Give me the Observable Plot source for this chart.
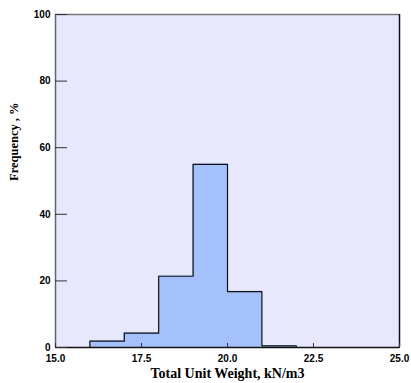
<!DOCTYPE html>
<html><head><meta charset="utf-8">
<script src="https://cdn.jsdelivr.net/npm/d3@7"></script>
<script src="https://cdn.jsdelivr.net/npm/@observablehq/plot@0.6"></script>
<style>
html,body{margin:0;padding:0;background:#fff;}
svg{display:block;}
</style></head>
<body><div id="chart"></div>
<script>
const binStart = [16, 17, 18, 19, 20, 21];
const binEnd = [17, 18, 19, 20, 21, 22];
const frequency = [1.9, 4.3, 21.4, 55, 16.8, 0.5];
const xTicks = [15, 17.5, 20, 22.5, 25];
const yTicks = [0, 20, 40, 60, 80, 100];

const bars = binStart.map((s, i) => ({x1: s, x2: binEnd[i], y: frequency[i]}));
// step outline built from the bins
const outline = [{x: 15, y: 0}, {x: binStart[0], y: 0}];
bars.forEach(b => { outline.push({x: b.x1, y: b.y}); outline.push({x: b.x2, y: b.y}); });
outline.push({x: binEnd[binEnd.length - 1], y: 0});
outline.push({x: 25, y: 0});

const chart = Plot.plot({
  width: 411,
  height: 383,
  marginLeft: 55,
  marginRight: 12,
  marginTop: 14,
  marginBottom: 36,
  style: {fontFamily: "Liberation Sans, Arial, sans-serif", fontWeight: "bold", fontSize: "10px", color: "#000", background: "#fff"},
  x: {domain: [15, 25]},
  y: {domain: [0, 100]},
  marks: [
    Plot.frame({fill: "#e8e8fc", stroke: "none"}),
    Plot.rectY(bars, {x1: "x1", x2: "x2", y: "y", fill: "#a4c1fc", stroke: "#a4c1fc", strokeWidth: 0.6}),
    Plot.line(outline, {x: "x", y: "y", stroke: "#111", strokeWidth: 1.2}),
    Plot.ruleX([15], {stroke: "#666", strokeWidth: 1.5}),
    Plot.ruleY([100], {stroke: "#777", strokeWidth: 1.5}),
    Plot.ruleX([25], {stroke: "#111", strokeWidth: 1.5}),
    Plot.ruleY([0], {stroke: "#111", strokeWidth: 1.5}),
    Plot.axisY({ticks: yTicks, tickSize: -12, tickPadding: 17, stroke: "#333", label: null, fontSize: 10, fontWeight: "bold"}),
    Plot.axisX({ticks: xTicks, tickSize: -4, tickPadding: 11, stroke: "#333", tickFormat: d => d.toFixed(1), label: null, fontSize: 10, fontWeight: "bold"}),
    Plot.text(["Total Unit Weight, kN/m3"], {frameAnchor: "bottom", dy: 30, fontFamily: "Liberation Serif, Times New Roman, serif", fontSize: 14, fontWeight: "bold", fill: "#000"}),
    Plot.text(["Frequency , %"], {frameAnchor: "left", dx: -42, rotate: -90, fontFamily: "Liberation Serif, Times New Roman, serif", fontSize: 12.5, fontWeight: "bold", fill: "#000"})
  ]
});
document.getElementById("chart").appendChild(chart);
</script>
</body></html>
